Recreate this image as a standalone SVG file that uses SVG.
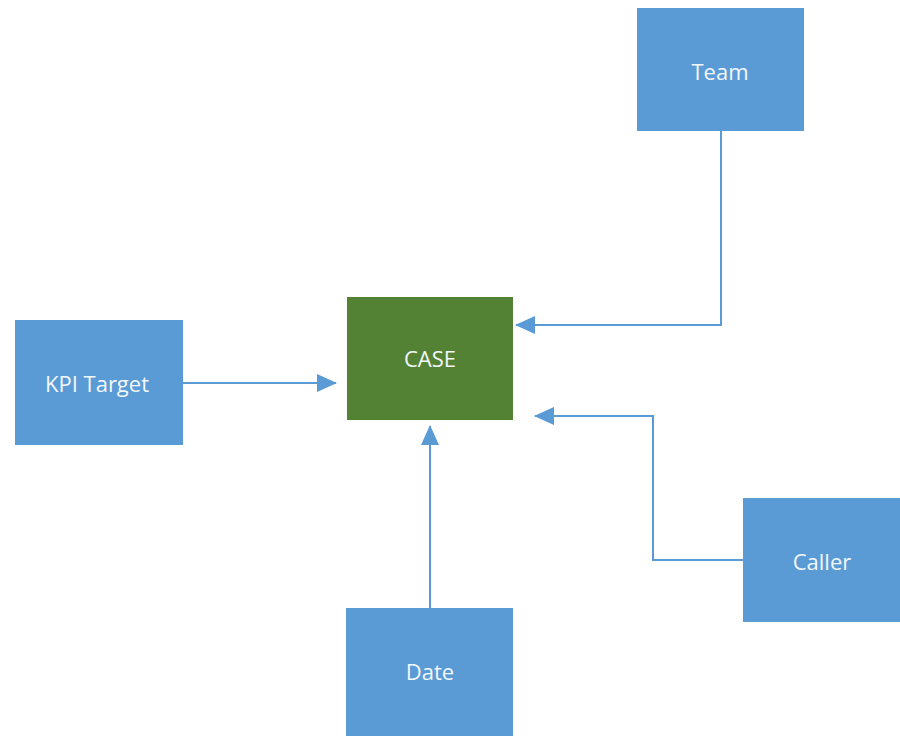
<svg xmlns="http://www.w3.org/2000/svg" width="900" height="736" viewBox="0 0 900 736">
<defs>
<style>
.box{fill:#5B9BD5;}
.main{fill:#548235;}
.lbl{font-family:"Open Sans","Noto Sans","DejaVu Sans",sans-serif;font-size:22px;fill:#F2F7FC;text-anchor:middle;dominant-baseline:central;}
.con{fill:none;stroke:#5B9BD5;stroke-width:2;marker-end:url(#arr);}
</style>
<marker id="arr" viewBox="0 0 20 18" refX="19" refY="9" markerWidth="20" markerHeight="18" markerUnits="userSpaceOnUse" orient="auto">
<path d="M0,0 L20,9 L0,18 Z" fill="#5B9BD5"/>
</marker>
</defs>
<rect width="900" height="736" fill="#FFFFFF"/>
<g id="connectors">
<path class="con" d="M721,130 V325 H516"/>
<path class="con" d="M743,560 H653 V416 H535"/>
<path class="con" d="M183,383 H336"/>
<path class="con" d="M430,608 V426"/>
</g>
<g id="team"><rect class="box" x="637" y="8" width="167" height="123"/><text class="lbl" x="720" y="71">Team</text></g>
<g id="case"><rect class="main" x="347" y="297" width="166" height="123"/><text class="lbl" x="430" y="358">CASE</text></g>
<g id="kpi"><rect class="box" x="15" y="320" width="168" height="125"/><text class="lbl" x="97" y="383">KPI Target</text></g>
<g id="caller"><rect class="box" x="743" y="498" width="157" height="124"/><text class="lbl" x="822" y="561">Caller</text></g>
<g id="date"><rect class="box" x="346" y="608" width="167" height="128"/><text class="lbl" x="430" y="671">Date</text></g>
</svg>
